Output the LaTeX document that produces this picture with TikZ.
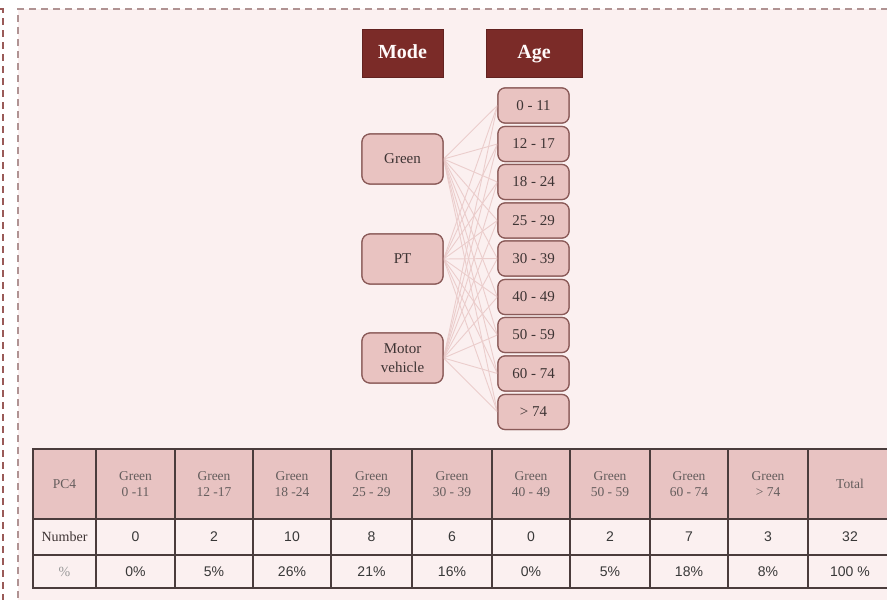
\documentclass[tikz,border=0pt]{standalone}
\usepackage{fontspec}
\setmainfont{Liberation Serif}
\newfontfamily\numfont{Liberation Sans}
\definecolor{bgpink}{HTML}{FBF0F0}
\definecolor{dashc}{HTML}{B09393}
\definecolor{outerdash}{HTML}{9A5A58}
\definecolor{titlered}{HTML}{7B2B28}
\definecolor{boxfill}{HTML}{E9C3C1}
\definecolor{boxline}{HTML}{8A5A58}
\definecolor{linkc}{HTML}{EBCDCC}
\definecolor{hdrfill}{HTML}{E8C3C2}
\definecolor{gridc}{HTML}{4A3C3C}
\definecolor{txt}{HTML}{3E3434}
\tikzset{
  titlebox/.style={draw=titlered!80!black, fill=titlered, text=white!92!pink, font=\fontsize{20}{22}\selectfont\bfseries, minimum height=48pt, inner sep=0pt, text height=14pt, text depth=4pt},
  agebox/.style={draw=boxline, line width=1.2pt, fill=boxfill, rounded corners=7pt, minimum width=71pt, minimum height=35pt, inner sep=0pt, text=txt, font=\fontsize{15}{16}\selectfont},
  modebox/.style={draw=boxline, line width=1.2pt, fill=boxfill, rounded corners=8pt, minimum width=81pt, minimum height=50pt, inner sep=0pt, text=txt, align=center, font=\fontsize{15}{19}\selectfont},
  link/.style={draw=linkc, line width=0.9pt},
  cell/.style={draw=gridc, line width=1.1pt, inner sep=0pt, align=center, text=txt},
  hcell/.style={cell, fill=hdrfill, font=\fontsize{13.5}{16}\selectfont, text=txt!80!white},
  ncell/.style={cell, fill=bgpink, font=\numfont\fontsize{14}{16}\selectfont, text=black!78},
  lcell/.style={cell, fill=bgpink, font=\fontsize{14}{16}\selectfont}
}
\begin{document}
\begin{tikzpicture}[x=1pt, y=-1pt]
\useasboundingbox (0,0) rectangle (887,600);
% frames
\fill[bgpink] (18,9) rectangle (900,610);
\draw[dashc, line width=1.2pt, dash pattern=on 7pt off 5pt] (18,610) -- (18,9) -- (900,9);
\draw[outerdash, line width=1.2pt, dash pattern=on 7pt off 5pt] (0,9) -- (3,9) -- (3,610);
% titles
\node[titlebox, minimum width=81pt] (mode) at (402.5,53) {Mode};
\node[titlebox, minimum width=96pt] (age) at (534,53) {Age};
% age nodes
\foreach \i/\t/\y in {1/0 - 11/105.5, 2/12 - 17/144, 3/18 - 24/182, 4/25 - 29/220.5, 5/30 - 39/258.5, 6/40 - 49/297, 7/50 - 59/335, 8/60 - 74/373.5, 9/> 74/412}
  \node[agebox] (a\i) at (533.5,\y) {\t};
% mode nodes
\node[modebox] (green) at (402.5,159) {Green};
\node[modebox] (pt) at (402.5,259) {PT};
\node[modebox] (mv) at (402.5,358) {Motor\\vehicle};
% links
\foreach \m in {green,pt,mv}
  \foreach \i in {1,...,9}
    \draw[link] (\m.east) -- (a\i.west);
% redraw boxes on top of links
\foreach \i/\t/\y in {1/0 - 11/105.5, 2/12 - 17/144, 3/18 - 24/182, 4/25 - 29/220.5, 5/30 - 39/258.5, 6/40 - 49/297, 7/50 - 59/335, 8/60 - 74/373.5, 9/> 74/412}
  \node[agebox] at (533.5,\y) {\t};
\node[modebox] at (402.5,159) {Green};
\node[modebox] at (402.5,259) {PT};
\node[modebox] at (402.5,358) {Motor\\vehicle};
% table
\foreach \i/\l/\r/\t in {1/33/96/PC4, 2/96/175/{Green\\0 -11}, 3/175/253/{Green\\12 -17}, 4/253/331/{Green\\18 -24}, 5/331/412/{Green\\25 - 29}, 6/412/492/{Green\\30 - 39}, 7/492/570/{Green\\40 - 49}, 8/570/650/{Green\\50 - 59}, 9/650/728/{Green\\60 - 74}, 10/728/808/{Green\\> 74}, 11/808/892/Total}
  \node[hcell, minimum width={(\r-\l)*1pt}, minimum height=70pt] (h\i) at ({(\l+\r)/2},484) {\t};
\foreach \i/\l/\r/\t in {2/96/175/0, 3/175/253/2, 4/253/331/10, 5/331/412/8, 6/412/492/6, 7/492/570/0, 8/570/650/2, 9/650/728/7, 10/728/808/3, 11/808/892/32}
  \node[ncell, minimum width={(\r-\l)*1pt}, minimum height=36pt] (n\i) at ({(\l+\r)/2},537) {\t};
\foreach \i/\l/\r/\t in {2/96/175/0\%, 3/175/253/5\%, 4/253/331/26\%, 5/331/412/21\%, 6/412/492/16\%, 7/492/570/0\%, 8/570/650/5\%, 9/650/728/18\%, 10/728/808/8\%, 11/808/892/100 \%}
  \node[ncell, minimum width={(\r-\l)*1pt}, minimum height=33pt] (p\i) at ({(\l+\r)/2},571.5) {\t};
\node[lcell, minimum width=63pt, minimum height=36pt] (n1) at (64.5,537) {Number};
\node[lcell, minimum width=63pt, minimum height=33pt, text=black!40] (p1) at (64.5,571.5) {\%};
\end{tikzpicture}
\end{document}
